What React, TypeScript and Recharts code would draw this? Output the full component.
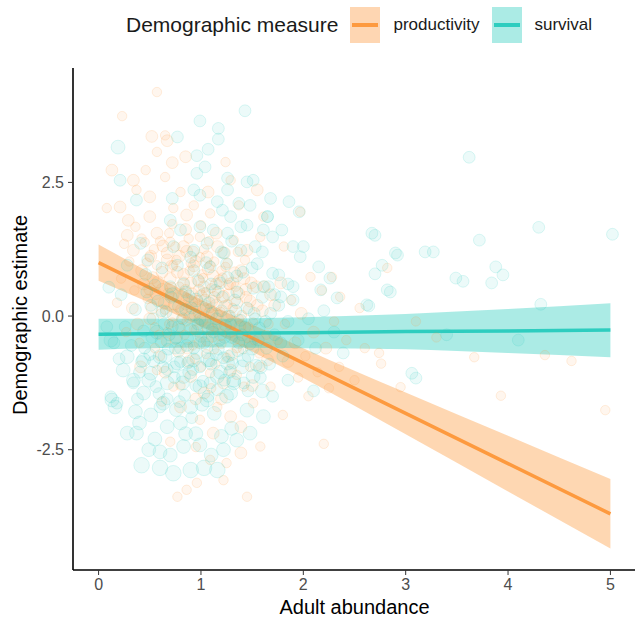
import {
  Area,
  ComposedChart,
  Line,
  Scatter,
  XAxis,
  YAxis,
  ZAxis,
} from "recharts";

const ORANGE = "#FD9A3F";
const TEAL = "#2ECDBF";
const FONT = "'Liberation Sans', Arial, sans-serif";

const xTicks = [0, 1, 2, 3, 4, 5];
const yTicks = [-2.5, 0, 2.5];
const seriesNames = ["productivity", "survival"];

// [adult abundance, estimate, sample weight]
const productivityPoints: [number, number, number][] = [
  [0.57, 4.19, 2], [0.23, 3.74, 2], [0.52, 3.36, 3], [0.65, 3.38, 2], [0.67, 3.28, 3],
  [0.57, 3.07, 2], [0.85, 2.98, 3], [1.24, 2.88, 2], [0.13, 2.73, 3], [0.46, 2.73, 2],
  [0.72, 2.87, 3], [0.65, 2.6, 2], [0.34, 2.54, 3], [0.37, 2.36, 2], [0.5, 2.23, 3],
  [0.08, 2.02, 2], [0.21, 2.04, 3], [0.8, 2.32, 2], [1.07, 2.32, 3], [0.93, 2.07, 2],
  [1.29, 2.54, 2], [1.55, 2.36, 3], [1.37, 2.07, 2], [0.29, 1.79, 3], [0.36, 1.67, 2],
  [1.61, 1.86, 2], [0.5, 1.86, 3], [0.73, 2.02, 2], [0.86, 1.89, 3], [1.09, 1.92, 2],
  [0.28, 1.51, 3], [0.42, 1.45, 2], [0.57, 1.55, 3], [0.7, 1.39, 2], [0.83, 1.3, 3],
  [0.99, 1.48, 2], [1.16, 1.3, 3], [1.32, 1.42, 2], [1.45, 1.23, 3], [1.58, 1.48, 2],
  [0.34, 1.23, 3], [0.5, 1.11, 2], [0.67, 1.05, 3], [0.9, 0.99, 2], [1.06, 1.11, 3],
  [1.26, 0.99, 2],
  [0.42, 0.85, 3], [0.48, 0.32, 2], [0.51, 1.12, 3], [0.55, -0.21, 2], [0.58, 0.64, 3],
  [0.61, 0.05, 2], [0.63, 1.31, 3], [0.66, -0.48, 2], [0.68, 0.41, 3], [0.71, 0.93, 3],
  [0.72, -0.12, 2], [0.74, 0.22, 3], [0.76, 1.05, 2], [0.78, -0.66, 3], [0.79, 0.55, 2],
  [0.81, 0.12, 3], [0.83, 0.78, 3], [0.84, -0.35, 2], [0.86, 1.21, 3], [0.87, 0.33, 2],
  [0.89, -0.02, 3], [0.9, 0.62, 3], [0.92, -0.55, 2], [0.93, 0.94, 3], [0.95, 0.18, 2],
  [0.96, -0.27, 3], [0.98, 0.48, 3], [0.99, 1.1, 2], [1.01, -0.08, 3], [1.02, 0.71, 2],
  [1.04, 0.3, 3], [1.05, -0.71, 2], [1.07, 0.88, 3], [1.08, 0.05, 3], [1.1, 0.52, 2],
  [1.11, -0.38, 3], [1.13, 1.02, 2], [1.15, 0.21, 3], [1.16, -0.15, 2], [1.18, 0.66, 3],
  [1.2, -0.52, 2], [1.22, 0.37, 3], [1.24, 0.92, 2], [1.25, -0.02, 3], [1.27, 0.58, 2],
  [1.29, -0.29, 3], [1.31, 0.15, 2], [1.33, 0.81, 3], [1.35, -0.6, 2], [1.37, 0.42, 3],
  [1.4, 0.02, 2], [1.42, 0.7, 3], [1.45, -0.41, 2], [1.48, 0.28, 3], [1.51, -0.12, 2],
  [1.54, 0.55, 3], [1.57, -0.7, 2], [1.6, 0.1, 3], [1.64, -0.35, 2], [1.68, 0.4, 3],
  [0.35, 0.48, 2], [0.38, -0.15, 3], [0.45, 1.38, 2], [0.53, 0.72, 3], [0.6, -0.75, 2],
  [0.64, 0.24, 3], [0.69, 1.55, 2], [0.73, 0.02, 3], [0.77, 0.82, 3], [0.8, -0.22, 2],
  [0.85, 0.48, 3], [0.88, 1.45, 2], [0.91, 0.25, 3], [0.94, -0.8, 2], [0.97, 0.68, 3],
  [1.0, 0.38, 3], [1.03, 1.25, 2], [1.06, -0.45, 3], [1.09, 0.15, 2], [1.12, 0.75, 3],
  [1.14, -0.9, 2], [1.17, 0.45, 3], [1.19, 0.08, 2], [1.23, 1.18, 3], [1.26, 0.22, 2],
  [1.3, -0.72, 3], [1.34, 0.55, 2], [1.38, -0.2, 3], [1.43, 1.05, 2], [1.47, 0.12, 3],
  [0.3, 1.02, 2], [0.33, 0.15, 3], [0.4, -0.5, 2], [0.5, -0.05, 3], [0.57, 0.95, 2],
  [0.62, 0.5, 3], [0.67, -0.3, 2], [0.7, 0.7, 3], [0.75, 1.3, 2], [0.82, 0.4, 3],
  [0.86, -0.1, 2], [0.92, 1.2, 3], [0.97, 0.05, 2], [1.03, 0.55, 3], [1.08, 1.4, 2],
  [1.13, 0.35, 3], [1.2, 0.85, 2], [1.28, 0.6, 3], [1.36, 1.2, 2], [1.44, 0.5, 3],
  [0.22, 0.7, 2], [0.27, -0.3, 2], [0.18, 0.25, 2], [0.25, 1.35, 2],
  [0.44, 0.6, 3], [0.47, 1.0, 2], [0.52, 0.15, 3], [0.54, 1.25, 2], [0.56, 0.42, 3],
  [0.59, -0.35, 2], [0.62, 0.82, 3], [0.65, 0.12, 2], [0.67, 1.18, 3], [0.69, -0.15, 2],
  [0.71, 0.52, 3], [0.73, 0.95, 2], [0.75, -0.42, 3], [0.77, 0.35, 2], [0.79, 1.12, 3],
  [0.81, -0.05, 2], [0.83, 0.62, 3], [0.85, 0.2, 2], [0.87, -0.6, 3], [0.89, 0.85, 2],
  [0.91, 0.42, 3], [0.93, -0.25, 2], [0.95, 1.02, 3], [0.97, 0.3, 2], [0.99, -0.5, 3],
  [1.01, 0.78, 2], [1.03, 0.12, 3], [1.05, 0.45, 2], [1.07, -0.22, 3], [1.09, 0.95, 2],
  [1.11, 0.28, 3], [1.13, -0.62, 2], [1.15, 0.6, 3], [1.17, 0.02, 2], [1.19, -0.35, 3],
  [1.21, 0.72, 2], [1.23, 0.18, 3], [1.25, -0.78, 2], [1.27, 0.4, 3], [1.29, 0.02, 2],
  [1.31, 0.62, 3], [1.33, -0.45, 2], [1.35, 0.25, 3], [1.37, -0.05, 2], [1.39, 0.85, 3],
  [1.41, -0.62, 2], [1.44, 0.35, 3], [1.46, -0.2, 2], [1.49, 0.62, 3], [1.52, -0.45, 2],
  [1.55, 0.2, 3], [1.58, -0.95, 2], [1.62, 0.55, 3], [1.66, -0.15, 2], [0.6, 1.4, 2],
  [0.72, 1.72, 2], [0.85, 1.62, 3], [1.0, 1.7, 2], [1.15, 1.55, 3], [0.5, 0.5, 3],
  [0.55, -0.6, 2], [0.65, -1.05, 3], [0.8, -1.3, 2], [0.95, -1.55, 3], [1.1, -1.35, 2],
  [1.2, -1.55, 3], [1.35, -1.1, 2], [1.5, -1.3, 3], [1.0, -0.95, 2], [0.88, -0.85, 3],
  [0.86, -3.25, 2], [0.77, -3.38, 2], [1.45, -3.38, 2], [0.96, -3.12, 2], [1.22, -3.07, 2],
  [1.09, -2.69, 2], [1.39, -2.56, 3], [0.7, -2.35, 2], [1.12, -2.19, 3], [1.58, -2.44, 2],
  [1.39, -2.07, 3], [0.99, -1.94, 2], [1.29, -1.88, 3], [1.51, -1.63, 2], [0.8, -1.7, 3],
  [1.16, -1.7, 2], [1.03, -1.44, 3], [1.42, -1.32, 2], [1.22, -1.25, 3], [0.73, -1.32, 2],
  [0.9, -1.13, 3], [1.09, -1.07, 2], [1.29, -1.01, 3], [1.48, -0.95, 2], [1.65, -0.82, 3],
  [0.57, -1.01, 2], [0.41, -0.95, 3], [1.68, -1.32, 2], [1.8, -1.85, 2], [0.62, -1.6, 2],
  [1.25, -2.75, 2], [0.95, -2.45, 2],
  [1.72, 0.2, 3], [1.75, -0.45, 2], [1.78, 0.62, 3], [1.82, -0.15, 2], [1.85, -0.85, 3],
  [1.88, 0.3, 2], [1.92, -0.5, 3], [1.95, -1.15, 2], [1.98, 0.05, 3], [2.02, -0.75, 2],
  [2.05, -1.5, 2], [2.1, -0.3, 3], [2.14, -1.05, 2], [2.18, 0.48, 2], [2.22, -0.6, 3],
  [2.25, -1.35, 2], [2.3, -0.1, 2], [2.35, -0.95, 2], [2.42, -0.45, 2], [2.5, -1.2, 2],
  [2.6, -0.6, 2], [2.2, -2.39, 2], [2.74, -0.69, 2], [2.76, -0.89, 2], [2.95, -1.33, 2],
  [3.67, -0.77, 2], [3.93, -1.49, 2], [4.36, -0.73, 2], [4.62, -0.84, 2], [4.95, -1.76, 2],
  [2.82, 0.9, 2], [2.07, 0.73, 2], [2.28, 0.73, 2], [2.36, 0.36, 2], [1.81, 1.3, 2],
  [1.97, 1.95, 2], [3.3, -0.4, 2], [3.1, -0.1, 2], [2.55, 0.15, 2],
];

const survivalPoints: [number, number, number][] = [
  [1.43, 3.84, 3], [0.99, 3.65, 3], [1.17, 3.51, 3], [1.17, 3.31, 3], [0.77, 3.35, 3],
  [0.19, 3.16, 4], [1.07, 3.12, 3], [0.96, 3.0, 3], [1.04, 2.79, 3], [0.96, 2.67, 3],
  [0.21, 2.54, 3], [1.26, 2.58, 3], [1.45, 2.51, 3], [1.51, 2.54, 3], [0.93, 2.36, 3],
  [0.99, 2.26, 3], [1.26, 2.36, 3], [0.72, 2.2, 3], [1.16, 2.14, 3], [1.37, 2.11, 3],
  [1.48, 2.07, 3], [1.21, 1.98, 3], [1.29, 1.86, 3], [1.39, 1.67, 3], [1.45, 1.7, 3],
  [0.7, 1.79, 3], [0.8, 1.61, 3], [0.99, 1.67, 3], [1.12, 1.61, 3], [1.26, 1.55, 3],
  [1.61, 1.61, 3], [0.37, 2.17, 3], [0.41, 1.36, 3], [0.73, 1.3, 3], [0.93, 1.23, 3],
  [1.06, 1.36, 3], [1.22, 1.18, 3], [1.39, 1.23, 3], [1.53, 1.3, 3], [1.65, 1.86, 3],
  [1.68, 2.2, 3], [1.86, 2.14, 3], [1.96, 1.95, 3], [1.65, 1.86, 3], [1.79, 1.61, 3],
  [1.7, 1.48, 3], [1.9, 1.3, 3], [2.0, 1.3, 3], [2.15, 0.92, 3], [1.97, 1.11, 3],
  [2.26, 0.71, 3], [2.17, 0.49, 3], [2.33, 0.34, 3], [1.9, 0.55, 3], [1.76, 0.77, 3],
  [1.78, 0.36, 3], [1.61, 0.55, 3], [2.67, 1.55, 3], [2.9, 1.18, 3], [2.82, 0.49, 3],
  [2.62, 0.21, 3], [3.19, 1.2, 3], [3.27, 1.2, 3], [3.49, 0.71, 3], [3.06, -1.07, 3],
  [2.39, -0.69, 3], [3.62, 2.97, 3], [4.3, 1.66, 3], [5.02, 1.53, 3], [3.72, 1.42, 3],
  [3.88, 0.92, 3], [3.95, 0.77, 3], [3.84, 0.62, 3], [3.56, 0.65, 3], [4.32, 0.22, 3],
  [2.7, 1.51, 3], [2.92, 1.14, 3], [2.77, 0.95, 3], [2.7, 0.79, 3], [2.85, 0.45, 3],
  [2.64, 0.19, 3], [3.1, -1.16, 3], [3.4, -0.35, 3], [4.1, -0.45, 3],
  [0.42, -2.79, 5], [0.6, -2.84, 5], [0.73, -2.94, 5], [0.9, -2.88, 5], [1.03, -2.84, 5],
  [1.16, -2.88, 5], [0.49, -2.5, 4], [0.6, -2.54, 4], [0.83, -2.44, 4], [0.99, -2.41, 4],
  [1.22, -2.5, 4], [1.35, -2.32, 4], [1.48, -2.19, 4], [0.37, -2.19, 4], [0.28, -2.19, 4],
  [0.67, -2.07, 4], [0.8, -2.0, 4], [0.36, -1.79, 4], [0.51, -1.85, 4], [0.13, -1.57, 4],
  [0.16, -1.7, 4], [0.44, -1.44, 4], [0.63, -1.63, 4], [0.9, -1.7, 4], [1.06, -1.57, 4],
  [1.29, -1.44, 4], [1.45, -1.76, 4], [1.61, -1.88, 4], [0.24, -1.01, 4], [0.34, -1.2, 4],
  [0.51, -1.07, 4], [0.67, -1.25, 4], [0.83, -1.13, 4], [0.99, -1.32, 4], [1.16, -1.13, 4],
  [1.32, -1.25, 4], [1.51, -1.13, 4], [0.28, -0.76, 4], [0.44, -0.82, 4], [0.6, -0.76, 4],
  [0.77, -0.88, 4], [0.93, -0.82, 4], [1.09, -0.82, 4], [1.26, -0.88, 4], [1.42, -0.82, 4],
  [1.58, -0.95, 4], [0.12, -0.45, 4], [1.7, -1.5, 3], [1.85, -1.2, 3], [2.1, -1.4, 3],
  [1.3, -2.1, 4], [0.95, -2.2, 4],
  [0.32, -0.55, 3], [0.36, 0.12, 3], [0.4, -1.05, 3], [0.44, -0.28, 3], [0.47, 0.45, 3],
  [0.5, -0.72, 3], [0.53, -0.05, 3], [0.56, -1.32, 3], [0.58, 0.28, 3], [0.61, -0.48, 3],
  [0.63, -0.95, 3], [0.66, 0.08, 3], [0.68, -0.62, 3], [0.7, 0.55, 3], [0.72, -0.2, 3],
  [0.74, -1.15, 3], [0.76, -0.41, 3], [0.78, 0.18, 3], [0.8, -0.85, 3], [0.82, -0.05, 3],
  [0.84, -1.48, 3], [0.86, -0.55, 3], [0.88, 0.38, 3], [0.9, -0.25, 3], [0.92, -1.0, 3],
  [0.94, 0.02, 3], [0.96, -0.7, 3], [0.98, 0.65, 3], [1.0, -0.38, 3], [1.02, -1.22, 3],
  [1.04, -0.12, 3], [1.06, -0.58, 3], [1.08, 0.25, 3], [1.1, -0.9, 3], [1.12, -0.3, 3],
  [1.14, 0.48, 3], [1.16, -1.38, 3], [1.18, -0.45, 3], [1.2, 0.1, 3], [1.22, -0.78, 3],
  [1.24, -0.18, 3], [1.26, 0.72, 3], [1.28, -1.05, 3], [1.3, -0.4, 3], [1.33, 0.3, 3],
  [1.36, -0.65, 3], [1.39, -0.08, 3], [1.42, -1.25, 3], [1.45, 0.15, 3], [1.48, -0.52, 3],
  [1.51, 0.52, 3], [1.54, -0.92, 3], [1.57, -0.22, 3], [1.6, 0.35, 3], [1.64, -0.6, 3],
  [1.68, 0.05, 3], [1.72, -0.35, 3], [1.76, 0.2, 3], [1.8, -0.75, 3], [1.85, -0.1, 3],
  [0.38, -1.55, 3], [0.42, -0.85, 3], [0.46, 0.78, 3], [0.52, -0.4, 3], [0.55, 0.58, 3],
  [0.6, -1.7, 3], [0.64, -0.15, 3], [0.67, -1.0, 3], [0.71, 0.35, 3], [0.75, -0.6, 3],
  [0.79, -1.6, 3], [0.83, 0.6, 3], [0.87, -0.88, 3], [0.91, 0.15, 3], [0.95, -1.3, 3],
  [0.99, -0.05, 3], [1.03, 0.42, 3], [1.07, -1.5, 3], [1.11, 0.05, 3], [1.15, -0.72, 3],
  [1.19, 0.62, 3], [1.23, -1.2, 3], [1.27, 0.0, 3], [1.31, -0.88, 3], [1.35, 0.45, 3],
  [1.4, -0.35, 3], [1.46, -0.75, 3], [1.52, 0.05, 3], [1.58, -1.15, 3], [1.66, 0.55, 3],
  [0.26, -0.2, 3], [0.22, 0.4, 3], [0.2, -0.8, 3], [0.28, 0.95, 3], [0.34, -1.25, 3],
  [0.48, 1.05, 3], [0.62, 0.9, 3], [0.77, 0.95, 3], [0.93, 0.85, 3], [1.09, 0.92, 3],
  [1.25, 0.98, 3], [1.41, 0.82, 3], [1.55, 0.98, 3], [1.7, 0.8, 3], [1.9, 0.3, 3],
  [1.95, -0.45, 3], [2.05, -0.05, 3], [2.12, -0.6, 3], [2.2, 0.1, 3], [2.3, -0.3, 3],
  [0.1, 0.54, 3], [0.15, -0.5, 3], [0.12, -1.51, 3], [0.18, -1.63, 3], [0.08, -0.2, 3],
  [0.45, -0.6, 3], [0.49, -1.2, 4], [0.51, 0.2, 3], [0.54, -0.85, 3], [0.57, -0.3, 4],
  [0.59, -1.45, 3], [0.62, 0.1, 3], [0.65, -0.75, 4], [0.67, -1.55, 3], [0.69, -0.35, 3],
  [0.72, 0.4, 4], [0.74, -0.95, 3], [0.76, -1.75, 4], [0.78, -0.2, 3], [0.8, -0.6, 3],
  [0.82, -1.25, 4], [0.85, 0.12, 3], [0.87, -0.42, 3], [0.89, -1.05, 4], [0.91, -1.9, 3],
  [0.93, -0.6, 3], [0.95, 0.3, 4], [0.97, -0.15, 3], [0.99, -0.95, 3], [1.01, -1.65, 4],
  [1.03, -0.5, 3], [1.05, 0.18, 3], [1.07, -0.82, 4], [1.09, -1.25, 3], [1.11, -0.25, 3],
  [1.13, -1.82, 4], [1.15, -0.05, 3], [1.17, -0.62, 3], [1.19, -1.05, 4], [1.21, 0.35, 3],
  [1.23, -0.4, 3], [1.25, -1.5, 4], [1.27, -0.75, 3], [1.29, -0.15, 3], [1.32, -1.2, 4],
  [1.34, 0.1, 3], [1.37, -0.5, 3], [1.4, -0.95, 4], [1.43, -0.2, 3], [1.46, -1.4, 3],
  [1.5, -0.6, 4], [1.53, -0.05, 3], [1.56, -0.45, 3], [1.6, -1.4, 4], [1.63, -0.1, 3],
  [1.67, -0.9, 3], [1.72, 0.4, 3], [1.78, -0.5, 3], [1.85, 0.6, 3], [1.05, 1.0, 3],
  [1.2, 1.2, 3], [1.3, 1.4, 3], [0.9, 1.1, 3], [0.85, 0.45, 3], [1.1, 0.6, 3],
  [1.35, 0.75, 3], [1.5, 0.9, 3], [1.6, 1.2, 3], [0.4, -2.0, 4], [0.55, -2.3, 4],
  [0.7, -2.6, 4], [0.85, -2.2, 4], [1.1, -2.6, 4], [1.2, -2.25, 4],
];

// fitted trend and 95% band, read at whole abundance values
const fitX = [0, 1, 2, 3, 4, 5];
const prodFit = [1.0, 0.06, -0.88, -1.82, -2.76, -3.7];
const prodLow = [0.66, -0.19, -1.16, -2.21, -3.28, -4.35];
const prodHigh = [1.34, 0.31, -0.6, -1.43, -2.24, -3.05];
const survFit = [-0.34, -0.32, -0.31, -0.29, -0.28, -0.26];
const survLow = [-0.63, -0.59, -0.6, -0.62, -0.69, -0.77];
const survHigh = [-0.05, -0.05, -0.02, 0.04, 0.13, 0.24];

const trendData = fitX.map((x, i) => ({
  x,
  prodFit: prodFit[i],
  prodBand: [prodLow[i], prodHigh[i]],
  survFit: survFit[i],
  survBand: [survLow[i], survHigh[i]],
}));

const toRows = (pts: [number, number, number][]) =>
  pts.map(([x, y, n]) => ({ x, y, n }));

const makeDot = (color: string) => (props: any) => {
  const r = props.size ? Math.sqrt(props.size / Math.PI) : 4;
  return (
    <circle
      cx={props.cx}
      cy={props.cy}
      r={r}
      fill={color}
      fillOpacity={0.09}
      stroke={color}
      strokeOpacity={0.16}
      strokeWidth={1}
    />
  );
};

const LegendKey = ({ color }: { color: string }) => (
  <div style={{ width: 30, height: 36, background: color, position: "relative" }}>
    <div style={{ position: "absolute", inset: 0, background: "white", opacity: 0.6 }} />
    <div
      style={{
        position: "absolute",
        left: 2,
        right: 2,
        top: 16,
        height: 4,
        background: color,
      }}
    />
  </div>
);

export default function App() {
  return (
    <div
      style={{
        position: "absolute",
        left: 0,
        top: 0,
        width: 635,
        height: 617,
        background: "white",
        fontFamily: FONT,
      }}
    >
      <div
        style={{
          position: "absolute",
          left: 126,
          top: 7,
          height: 36,
          display: "flex",
          alignItems: "center",
        }}
      >
        <span style={{ fontSize: 21, color: "#1a1a1a", marginRight: 12 }}>
          Demographic measure
        </span>
        <LegendKey color={ORANGE} />
        <span style={{ fontSize: 17, color: "#1a1a1a", marginLeft: 13, marginRight: 13 }}>
          {seriesNames[0]}
        </span>
        <LegendKey color={TEAL} />
        <span style={{ fontSize: 17, color: "#1a1a1a", marginLeft: 12 }}>
          {seriesNames[1]}
        </span>
      </div>
      <ComposedChart
        width={636}
        height={617}
        data={trendData}
        margin={{ top: 68, right: 0, bottom: 0, left: 0 }}
      >
        <XAxis
          type="number"
          dataKey="x"
          domain={[-0.25, 5.25]}
          ticks={xTicks}
          allowDataOverflow
          height={47}
          tickSize={5}
          tickMargin={4}
          tick={{ fill: "#4D4D4D", fontSize: 16, fontFamily: FONT }}
          tickLine={{ stroke: "#333" }}
          axisLine={{ stroke: "#000", strokeWidth: 1.6 }}
          label={{
            value: "Adult abundance",
            position: "insideBottom",
            offset: 3,
            fill: "#000",
            fontSize: 20,
            fontFamily: FONT,
          }}
        />
        <YAxis
          type="number"
          dataKey="y"
          domain={[-4.75, 4.64]}
          ticks={yTicks}
          allowDataOverflow
          width={73}
          tickSize={5}
          tickMargin={4}
          tickFormatter={(v: number) => v.toFixed(1)}
          tick={{ fill: "#4D4D4D", fontSize: 16, fontFamily: FONT }}
          tickLine={{ stroke: "#333" }}
          axisLine={{ stroke: "#000", strokeWidth: 1.6 }}
          label={{
            value: "Demographic estimate",
            content: (p: any) => {
              const vb = p.viewBox;
              const cx = 20;
              const cy = vb.y + vb.height / 2 - 4;
              return (
                <text
                  x={cx}
                  y={cy}
                  transform={`rotate(-90 ${cx} ${cy})`}
                  textAnchor="middle"
                  dominantBaseline="central"
                  fill="#000"
                  fontSize={20}
                  fontFamily={FONT}
                >
                  Demographic estimate
                </text>
              );
            },
          }}
        />
        <ZAxis type="number" dataKey="n" domain={[1, 5]} range={[30, 190]} />
        <Scatter
          name={seriesNames[0]}
          data={toRows(productivityPoints)}
          dataKey="y"
          shape={makeDot(ORANGE)}
          isAnimationActive={false}
        />
        <Scatter
          name={seriesNames[1]}
          data={toRows(survivalPoints)}
          dataKey="y"
          shape={makeDot(TEAL)}
          isAnimationActive={false}
        />
        <Area
          dataKey="prodBand"
          type="monotone"
          fill={ORANGE}
          fillOpacity={0.4}
          stroke="none"
          isAnimationActive={false}
        />
        <Line
          dataKey="prodFit"
          type="linear"
          stroke={ORANGE}
          strokeWidth={3.5}
          dot={false}
          isAnimationActive={false}
        />
        <Area
          dataKey="survBand"
          type="monotone"
          fill={TEAL}
          fillOpacity={0.4}
          stroke="none"
          isAnimationActive={false}
        />
        <Line
          dataKey="survFit"
          type="linear"
          stroke={TEAL}
          strokeWidth={3.5}
          dot={false}
          isAnimationActive={false}
        />
      </ComposedChart>
    </div>
  );
}
